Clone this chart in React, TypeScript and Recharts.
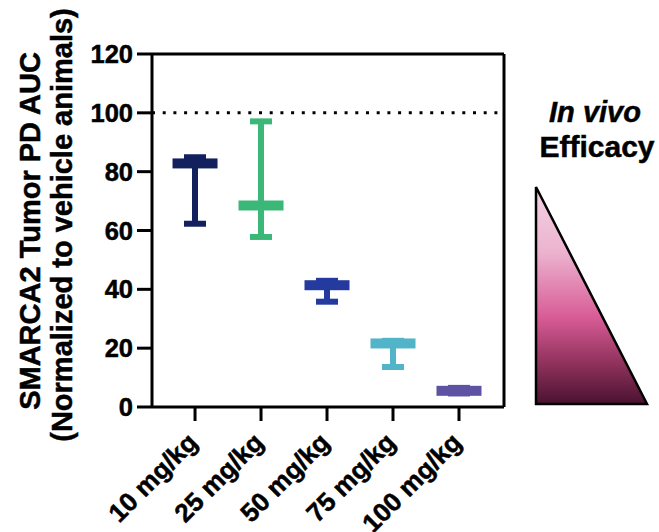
import React from 'react';
import { ScatterChart, Scatter, XAxis, YAxis, ErrorBar, ReferenceLine, Label } from 'recharts';

const doses = ['10 mg/kg', '25 mg/kg', '50 mg/kg', '75 mg/kg', '100 mg/kg'];
const means = [82.8, 68.5, 41.4, 21.6, 5.5];
const uppers = [84.9, 97.1, 42.9, 22.5, 6.5];
const lowers = [62.3, 57.8, 35.8, 13.6, 4.6];
const colors = ['#13205e', '#3bb877', '#243a9e', '#52b4c8', '#5e52a3'];
const yTicks = [0, 20, 40, 60, 80, 100, 120];
const xTicks = [0, 1, 2, 3, 4];

const series = doses.map((d, i) => [
  { x: i, dose: d, mean: means[i], err: [means[i] - lowers[i], uppers[i] - means[i]] },
]);

const FONT = 'Liberation Sans, Arial, Helvetica, sans-serif';
const HEAVY = { stroke: '#000', strokeWidth: 0.5 };

const MeanBar = (color: string) => (props: any) => {
  const { cx, cy } = props;
  return <rect x={cx - 22.5} y={cy - 5} width={45} height={10} fill={color} />;
};

const XTick = (props: any) => {
  const { x, y, payload } = props;
  const label = doses[payload.value];
  const px = x + 4;
  const py = y + 21;
  return (
    <text
      x={px}
      y={py}
      transform={`rotate(-45, ${px}, ${py})`}
      textAnchor="end"
      fontFamily={FONT}
      fontWeight="bold"
      fontSize={26}
      fill="#000"
      {...HEAVY}
    >
      {label}
    </text>
  );
};

const YTick = (props: any) => {
  const { x, y, payload } = props;
  return (
    <text x={x} y={y + 9} textAnchor="end" fontFamily={FONT} fontWeight="bold" fontSize={25.5} fill="#000" {...HEAVY}>
      {payload.value}
    </text>
  );
};

export default function App() {
  return (
    <div style={{ position: 'absolute', left: 0, top: 0, width: 659, height: 532, background: '#fff' }}>
      <ScatterChart width={659} height={532} margin={{ top: 54, right: 155, bottom: 25, left: 0 }}>
        <XAxis
          type="number"
          dataKey="x"
          domain={[-0.652, 4.682]}
          ticks={xTicks}
          allowDataOverflow
          axisLine={{ stroke: '#000', strokeWidth: 3 }}
          tickLine={{ stroke: '#000', strokeWidth: 3 }}
          tickSize={14}
          height={100}
          tick={<XTick />}
          interval={0}
        />
        <YAxis
          type="number"
          dataKey="mean"
          domain={[0, 120]}
          ticks={yTicks}
          width={152}
          axisLine={{ stroke: '#000', strokeWidth: 3 }}
          tickLine={{ stroke: '#000', strokeWidth: 3 }}
          tickSize={15}
          tickMargin={4}
          tick={<YTick />}
          interval={0}
        >
          <Label
            content={() => (
              <g>
                <text
                  transform="translate(40,231) rotate(-90)"
                  x={0}
                  y={0}
                  textAnchor="middle"
                  fontFamily={FONT}
                  fontWeight="bold"
                  fontSize={29}
                  fill="#000"
                  {...HEAVY}
                >
                  SMARCA2 Tumor PD AUC
                </text>
                <text
                  transform="translate(72,225) rotate(-90)"
                  x={0}
                  y={0}
                  textAnchor="middle"
                  fontFamily={FONT}
                  fontWeight="bold"
                  fontSize={29}
                  fill="#000"
                  {...HEAVY}
                >
                  (Normalized to vehicle animals)
                </text>
              </g>
            )}
          />
        </YAxis>
        <ReferenceLine y={120} stroke="#000" strokeWidth={3} />
        <ReferenceLine x={4.682} stroke="#000" strokeWidth={3} />
        <ReferenceLine y={100} stroke="#000" strokeWidth={3} strokeDasharray="3 7.7" />
        {series.map((data, i) => (
          <Scatter
            key={doses[i]}
            data={data}
            dataKey="mean"
            fill={colors[i]}
            shape={MeanBar(colors[i])}
            isAnimationActive={false}
          >
            <ErrorBar
              dataKey="err"
              direction="y"
              width={11}
              strokeWidth={6}
              stroke={colors[i]}
              isAnimationActive={false}
            />
          </Scatter>
        ))}
      </ScatterChart>
      <svg
        width={659}
        height={532}
        style={{ position: 'absolute', left: 0, top: 0, pointerEvents: 'none' }}
      >
        <defs>
          <linearGradient id="eff" x1="0" y1="0" x2="0" y2="1">
            <stop offset="0" stopColor="#f4d2e4" />
            <stop offset="0.3" stopColor="#ecb3cf" />
            <stop offset="0.6" stopColor="#d85c96" />
            <stop offset="0.8" stopColor="#94345f" />
            <stop offset="1" stopColor="#4a1230" />
          </linearGradient>
        </defs>
        <text x={595} y={122} textAnchor="middle" fontFamily={FONT} fontWeight="bold" fontStyle="italic" fontSize={29} fill="#000" {...HEAVY}>
          In vivo
        </text>
        <text x={597} y={157} textAnchor="middle" fontFamily={FONT} fontWeight="bold" fontSize={30} fill="#000" {...HEAVY}>
          Efficacy
        </text>
        <polygon points="536,187 536,404 647,404" fill="url(#eff)" stroke="#000" strokeWidth={2.5} strokeLinejoin="miter" />
      </svg>
    </div>
  );
}
